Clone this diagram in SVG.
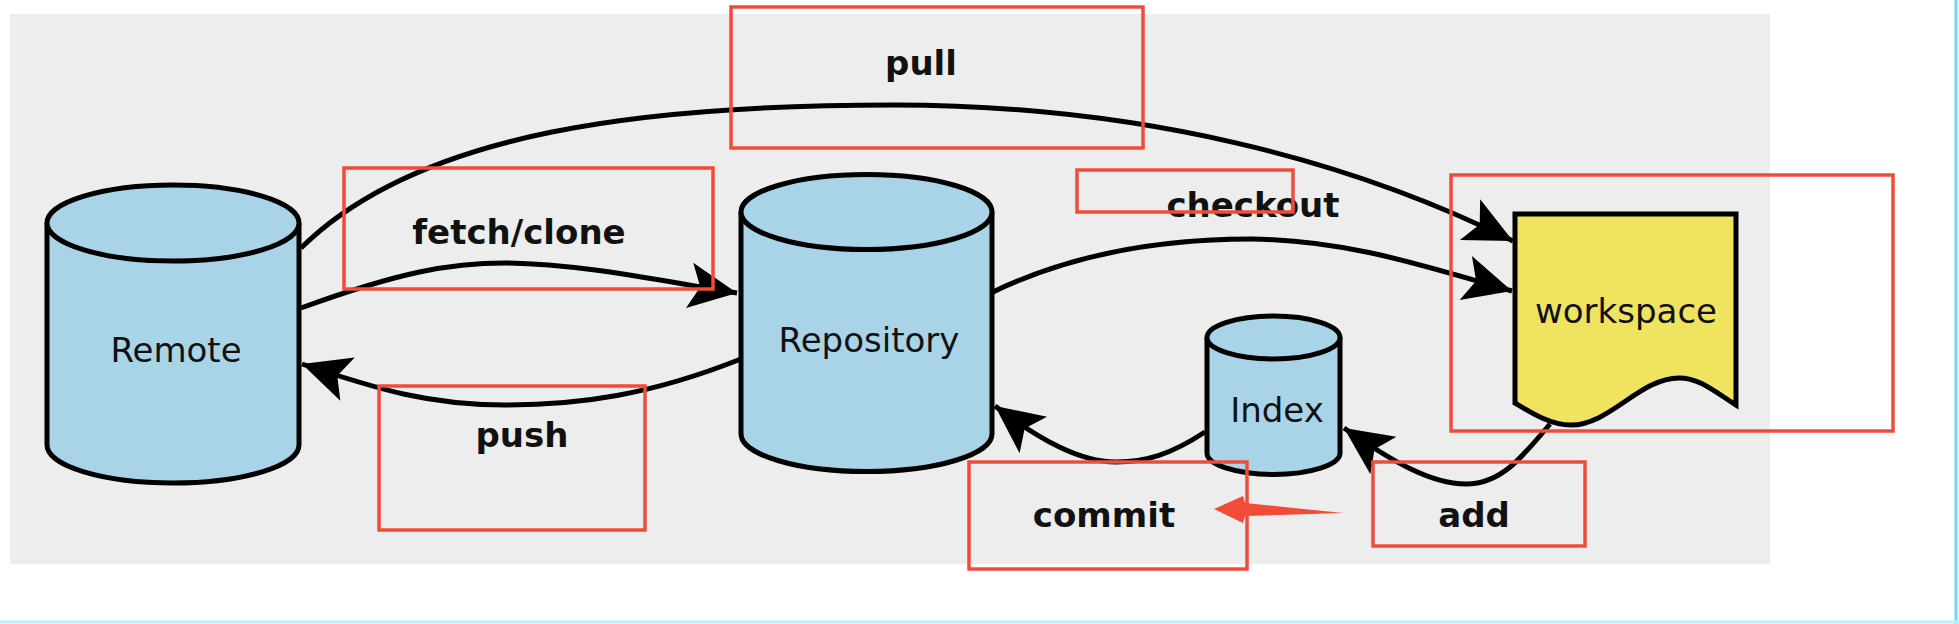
<svg xmlns="http://www.w3.org/2000/svg" width="1959" height="624" viewBox="0 0 1959 624">
<defs>
<style>
.bg{fill:#ededed}
.cyl{fill:#a9d4e8;stroke:#000;stroke-width:5}
.ws{fill:#efe35f;stroke:#000;stroke-width:5;stroke-linejoin:miter}
.lbl{font-family:"DejaVu Sans",sans-serif;font-size:34px;fill:#111;text-anchor:middle}
.elbl{font-family:"DejaVu Sans",sans-serif;font-size:34px;font-weight:bold;fill:#111;text-anchor:middle}
.edge{fill:none;stroke:#000;stroke-width:5;marker-end:url(#ah)}
.red{fill:none;stroke:#f24b38;stroke-width:3.5}
</style>
<marker id="ah" markerUnits="userSpaceOnUse" markerWidth="60" markerHeight="60" viewBox="-45 -25 50 50" refX="0" refY="0" orient="auto">
<path d="M0,0 L-40,-19 L-31,0 L-40,19 Z" fill="#000"/>
</marker>
</defs>
<rect class="bg" x="10" y="14" width="1760" height="550"/>

<g id="connectors">
<path id="e-pull" class="edge" d="M301,248 C420,130 650,105 894,105 C1140,105 1350,160 1513,241"/>
<path id="e-fetch" class="edge" d="M301,308 C400,272 450,263 505,263 C580,264 650,279 737,293"/>
<path id="e-checkout" class="edge" d="M993,292 C1080,250 1170,239 1251,239 C1350,240 1430,268 1512,291"/>
<path id="e-push" class="edge" d="M741,359 C650,395 580,405 505,405 C430,405 380,390 302,364"/>
<path id="e-commit" class="edge" d="M1205,432 C1170,455 1145,462 1116,462 C1080,462 1040,440 995,406"/>
<path id="e-add" class="edge" d="M1550,424 C1520,460 1500,484 1466,484 C1430,484 1390,460 1344,428"/>
</g>

<g id="remote">
<path class="cyl" d="M47,223 L47,445 A126,38 0 0 0 299,445 L299,223"/>
<ellipse class="cyl" cx="173" cy="223" rx="126" ry="38"/>
<text class="lbl" x="176" y="362">Remote</text>
</g>

<g id="repository">
<path class="cyl" d="M741,212 L741,434 A125.5,37.5 0 0 0 992,434 L992,212"/>
<ellipse class="cyl" cx="866.5" cy="212" rx="125.5" ry="37.5"/>
<text class="lbl" x="869" y="352">Repository</text>
</g>

<g id="index">
<path class="cyl" d="M1207,337.5 L1207,453 A66.5,21.5 0 0 0 1340,453 L1340,337.5"/>
<ellipse class="cyl" cx="1273.5" cy="337.5" rx="66.5" ry="21.5"/>
<text class="lbl" x="1277" y="422">Index</text>
</g>

<g id="workspace">
<path class="ws" d="M1515,214 L1736,214 L1736,405 C1715,392 1700,378 1679,378 C1640,378 1610,425 1571,425 C1550,425 1530,412 1515,403 Z"/>
<text class="lbl" x="1626" y="323">workspace</text>
</g>

<g id="labels">
<text class="elbl" x="921" y="75">pull</text>
<text class="elbl" x="519" y="244">fetch/clone</text>
<text class="elbl" x="1253" y="217">checkout</text>
<text class="elbl" x="522" y="447">push</text>
<text class="elbl" x="1104" y="527">commit</text>
<text class="elbl" x="1474" y="527">add</text>
</g>

<g id="annotations">
<rect class="red" x="731" y="7" width="412" height="141"/>
<rect class="red" x="344" y="168" width="369" height="121"/>
<rect class="red" x="1077" y="170" width="216" height="42"/>
<rect class="red" x="1451" y="175" width="442" height="256"/>
<rect class="red" x="379" y="386" width="266" height="144"/>
<rect class="red" x="969" y="462" width="278" height="107"/>
<rect class="red" x="1373" y="462" width="212" height="84"/>
<polygon fill="#f24b38" points="1343,513 1245,503 1243,496 1214,509 1243,523 1245,516"/>
</g>

<g id="frame">
<line x1="1956" y1="0" x2="1956" y2="624" stroke="#6fd6f2" stroke-width="3"/>
<line x1="0" y1="622" x2="1959" y2="622" stroke="#bff0f7" stroke-width="3"/>
</g>
</svg>
